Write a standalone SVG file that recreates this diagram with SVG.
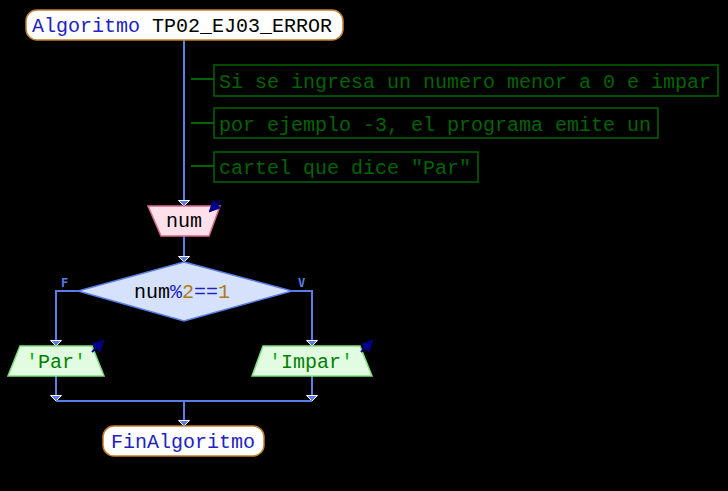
<svg xmlns="http://www.w3.org/2000/svg" width="728" height="491" viewBox="0 0 728 491">
<style>
text{font-family:"Liberation Mono","Courier New",monospace;font-size:20px}
.ln{stroke:#5a7ee6;stroke-width:2;fill:none}
.ah{fill:#5a7ee6;stroke:#ffffff;stroke-width:1}
.term{fill:#ffffff;stroke:#c0802c;stroke-width:1.5}
.kw{fill:#2222c0}
.id{fill:#000000}
.num{fill:#b07a20}
.cm rect{fill:none;stroke:#006400;stroke-width:1.5}
.cm line{stroke:#006400;stroke-width:2}
.cm text{fill:#006400}
.inp{fill:#fde0ea;stroke:#d86a8c;stroke-width:1.5}
.out{fill:#e2fce2;stroke:#7ee07e;stroke-width:1.5}
.dia{fill:#d6e2fb;stroke:#5a7ee6;stroke-width:1.5}
.str{fill:#008000}
.q{fill:#10b010}
.io{stroke:#00008b;stroke-width:2;fill:none}
.lbl{fill:#5a7ee6;font-family:"DejaVu Sans Mono",monospace;font-size:12px;font-weight:bold}
</style>
<defs>
<polygon id="ah" class="ah" points="-5.5,0 5.5,0 0,5.5"/>
<marker id="io" markerWidth="6" markerHeight="6" refX="5" refY="3" orient="auto" markerUnits="strokeWidth">
<path d="M0,0 L6,3 L0,6 z" fill="#00008b"/>
</marker>
</defs>
<rect width="728" height="491" fill="#000000"/>
<g id="connectors">
<line class="ln" x1="184" y1="40" x2="184" y2="205"/>
<use href="#ah" x="184" y="200.5"/>
<line class="ln" x1="184" y1="236" x2="184" y2="262"/>
<use href="#ah" x="184" y="256.5"/>
<polyline class="ln" points="78,291 56,291 56,345"/>
<polyline class="ln" points="292,291 312,291 312,345"/>
<use href="#ah" x="56" y="340.5"/>
<use href="#ah" x="312" y="340.5"/>
<line class="ln" x1="56" y1="376" x2="56" y2="401"/>
<line class="ln" x1="312" y1="376" x2="312" y2="401"/>
<use href="#ah" x="56" y="395.5"/>
<use href="#ah" x="312" y="395.5"/>
<line class="ln" x1="56" y1="401" x2="312" y2="401"/>
<line class="ln" x1="184" y1="401" x2="184" y2="426"/>
<use href="#ah" x="184" y="420.5"/>
<text class="lbl" x="61" y="287">F</text>
<text class="lbl" x="298" y="287">V</text>
</g>
<g id="start">
<rect class="term" x="26" y="10" width="317" height="30" rx="11"/>
<text x="32" y="32"><tspan class="kw">Algoritmo</tspan><tspan class="id"> TP02_EJ03_ERROR</tspan></text>
</g>
<g id="comment1" class="cm">
<line x1="191" y1="79" x2="214" y2="79"/>
<rect x="214" y="65" width="504" height="31"/>
<text x="219" y="88">Si se ingresa un numero menor a 0 e impar</text>
</g>
<g id="comment2" class="cm">
<line x1="191" y1="123" x2="214" y2="123"/>
<rect x="214" y="108" width="444" height="30"/>
<text x="219" y="131">por ejemplo -3, el programa emite un</text>
</g>
<g id="comment3" class="cm">
<line x1="191" y1="166" x2="214" y2="166"/>
<rect x="214" y="152" width="264" height="30"/>
<text x="219" y="174">cartel que dice "Par"</text>
</g>
<g id="read">
<polygon class="inp" points="148,206 220,206 209,236 161,236"/>
<text class="id" x="184" y="227" text-anchor="middle">num</text>
<line class="io" x1="221" y1="200" x2="210" y2="211" marker-end="url(#io)"/>
</g>
<g id="decision">
<polygon class="dia" points="184,262 292,291 184,321 78,291"/>
<text x="182" y="298" text-anchor="middle"><tspan class="id">num</tspan><tspan class="kw">%</tspan><tspan class="num">2</tspan><tspan class="kw">==</tspan><tspan class="num">1</tspan></text>
</g>
<g id="outPar">
<polygon class="out" points="20,346 92,346 104,376 8,376"/>
<text x="56" y="368" text-anchor="middle"><tspan class="q">'</tspan><tspan class="str">Par</tspan><tspan class="q">'</tspan></text>
<line class="io" x1="92" y1="352" x2="103" y2="341" marker-end="url(#io)"/>
</g>
<g id="outImpar">
<polygon class="out" points="263,346 360,346 372,376 252,376"/>
<text x="311" y="368" text-anchor="middle"><tspan class="q">'</tspan><tspan class="str">Impar</tspan><tspan class="q">'</tspan></text>
<line class="io" x1="361" y1="352" x2="372" y2="341" marker-end="url(#io)"/>
</g>
<g id="end">
<rect class="term" x="103" y="426" width="161" height="30" rx="11"/>
<text class="kw" x="111" y="448">FinAlgoritmo</text>
</g>
</svg>
